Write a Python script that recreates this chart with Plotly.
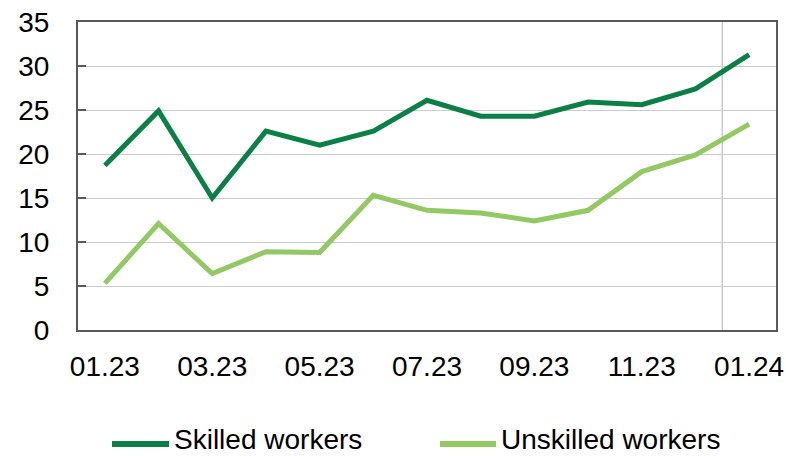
import plotly.graph_objects as go

months = ["01.23", "02.23", "03.23", "04.23", "05.23", "06.23", "07.23",
          "08.23", "09.23", "10.23", "11.23", "12.23", "01.24"]
skilled = [18.7, 24.9, 15.0, 22.6, 21.0, 22.6, 26.1, 24.3, 24.3, 25.9, 25.6, 27.4, 31.3]
unskilled = [5.3, 12.1, 6.4, 8.9, 8.8, 15.3, 13.6, 13.3, 12.4, 13.6, 18.0, 19.9, 23.4]
series_names = ["Skilled workers", "Unskilled workers"]
series_colors = ["#0B8046", "#92C962"]
tick_labels = ["01.23", "03.23", "05.23", "07.23", "09.23", "11.23", "01.24"]
y_ticks = [0, 5, 10, 15, 20, 25, 30, 35]

W, H = 786, 456
ML, MR, MT, MB = 78, 10, 22, 126
PW, PH = W - ML - MR, H - MT - MB

fig = go.Figure()
for name, vals, col in zip(series_names, [skilled, unskilled], series_colors):
    fig.add_trace(go.Scatter(x=months, y=vals, mode="lines", name=name,
                             line=dict(color=col, width=5), showlegend=False,
                             hoverinfo="skip"))

fig.add_shape(type="line", xref="x", yref="paper", x0=11.5, x1=11.5, y0=0, y1=1,
              line=dict(color="#C5CAD2", width=1.5), layer="below")

# custom legend (long line samples like the original)
def px_x(p):
    return (p - ML) / PW

def px_y(p):
    return (H - MB - p) / PH

legend_items = [(112, 169, 173), (440, 496, 500)]
for (x0, x1, tx), name, col in zip(legend_items, series_names, series_colors):
    fig.add_shape(type="line", xref="paper", yref="paper",
                  x0=px_x(x0), x1=px_x(x1), y0=px_y(444), y1=px_y(444),
                  line=dict(color=col, width=6))
    fig.add_annotation(xref="paper", yref="paper", x=px_x(tx), y=px_y(455.5),
                       xanchor="left", yanchor="bottom", text=name, showarrow=False,
                       borderpad=0, font=dict(size=28, color="#000000"))

font_family = "Liberation Sans, Arial, sans-serif"
fig.update_layout(
    width=W, height=H,
    margin=dict(l=ML, r=MR, t=MT, b=MB, autoexpand=False),
    paper_bgcolor="white", plot_bgcolor="white",
    font=dict(family=font_family, size=28, color="#000000"),
    showlegend=False,
    xaxis=dict(type="category", range=[-0.5, 12.5], tickmode="array",
               tickvals=tick_labels, ticktext=tick_labels, automargin=False,
               showline=True, linecolor="#595959", linewidth=2, mirror=True,
               showgrid=False, ticks="", ticklabelstandoff=10,
               tickfont=dict(size=28)),
    yaxis=dict(range=[0, 35], tickmode="array", tickvals=y_ticks, automargin=False,
               showline=True, linecolor="#595959", linewidth=2, mirror=True,
               showgrid=True, gridcolor="#CBCBCB", gridwidth=1,
               ticks="inside", ticklen=8, tickcolor="#595959", tickwidth=2,
               ticklabelstandoff=21, zeroline=False,
               tickfont=dict(size=28)),
)

fig.write_html("out.html", config={"displayModeBar": False},
               post_script="document.body.style.margin='0px';document.body.style.overflow='hidden';")
